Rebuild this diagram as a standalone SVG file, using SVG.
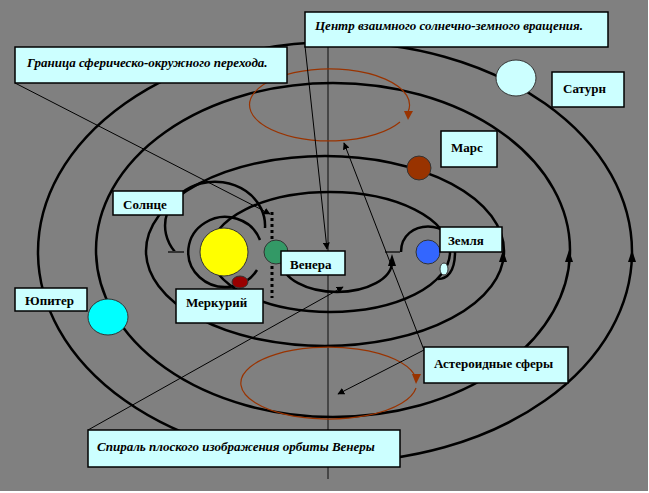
<svg xmlns="http://www.w3.org/2000/svg" width="649" height="493" viewBox="0 0 649 493">
<style>
.orb{fill:none;stroke:#000;stroke-width:2.5}
.red{fill:none;stroke:#993300;stroke-width:1.2}
.box{fill:#ccffff;stroke:#000;stroke-width:1.5}
text{font-family:'Liberation Serif','DejaVu Serif',serif;font-weight:bold;font-size:13px;fill:#000}
.i{font-style:italic}
.ln{stroke:#000;stroke-width:1;fill:none}
</style>
<defs>
<marker id="a" viewBox="0 0 10 10" refX="9" refY="5" markerWidth="7" markerHeight="7" orient="auto"><path d="M0,0L10,5L0,10z" fill="#000"/></marker>
</defs>
<rect width="648" height="491" fill="#808080"/>
<g id="axis"><line x1="328" y1="45" x2="328" y2="479" stroke="#333" stroke-width="1.5"/></g>
<g id="orbits">
<ellipse class="orb" cx="335" cy="252" rx="297" ry="210"/>
<ellipse class="orb" cx="333" cy="250" rx="237" ry="167"/>
<ellipse class="orb" cx="325" cy="251" rx="179" ry="95"/>
<ellipse class="orb" cx="330" cy="252" rx="120" ry="60"/>
<path class="orb" d="M282,262 A55,30 0 0 0 392,262"/>
<path class="orb" d="M175,252 A50,44 0 1 1 265,228"/>
<path class="orb" d="M257,270 A37,35 0 1 1 260,240"/>
<path class="orb" d="M401,252 C401,218 455,218 455,252 C455,272 447,279 438,279"/>
<line x1="168" y1="252" x2="184" y2="252" stroke="#333" stroke-width="2"/>
<line x1="385" y1="252" x2="400" y2="252" stroke="#333" stroke-width="2"/>
<line x1="272" y1="212" x2="272" y2="298" stroke="#000" stroke-width="3" stroke-dasharray="3,3"/>
<g fill="#000">
<path d="M628,262L632,250L636,262z"/>
<path d="M565,262L569,250L573,262z"/>
<path d="M499,262L503,250L507,262z"/>
<path d="M388,266L392,254L396,266z"/>
</g>
<path class="red" d="M400,122 A80,36 0 1 1 408,112"/>
<path d="M404,111L413,111L408,120z" fill="#993300"/>
<path class="red" d="M416,388 A88,36 0 1 1 414,374"/>
<path d="M412,374L421,374L416,384z" fill="#993300"/>
</g>
<g id="planets" stroke="#333" stroke-width="1">
<circle cx="224" cy="252" r="24" fill="#ffff00"/>
<ellipse cx="240" cy="282" rx="8" ry="6" fill="#990000"/>
<circle cx="276" cy="252" r="12" fill="#339966"/>
<circle cx="428" cy="252" r="12" fill="#3366ff"/>
<ellipse cx="444" cy="269" rx="4" ry="6" fill="#ccffff"/>
<circle cx="419" cy="168" r="12" fill="#993300"/>
<ellipse cx="516" cy="78" rx="20" ry="18" fill="#ccffff"/>
<ellipse cx="108" cy="317" rx="20" ry="18" fill="#00ffff"/>
</g>
<g id="connectors">
<line class="ln" x1="15" y1="83" x2="270" y2="214" marker-end="url(#a)"/>
<line class="ln" x1="305" y1="46" x2="327" y2="249" marker-end="url(#a)"/>
<line class="ln" x1="424" y1="350" x2="344" y2="143" marker-end="url(#a)"/>
<line class="ln" x1="424" y1="350" x2="338" y2="394" marker-end="url(#a)"/>
<line class="ln" x1="88" y1="430" x2="343" y2="287" marker-end="url(#a)"/>
</g>
<g id="n-center"><rect class="box" x="305" y="12" width="303" height="35"/><text class="i" x="315" y="30">Центр взаимного солнечно-земного вращения.</text></g>
<g id="n-border"><rect class="box" x="15" y="47" width="272" height="36"/><text class="i" x="27" y="67">Граница сферическо-окружного перехода.</text></g>
<g id="n-saturn"><rect class="box" x="552" y="72" width="72" height="35"/><text x="563" y="93">Сатурн</text></g>
<g id="n-mars"><rect class="box" x="441" y="131" width="56" height="36"/><text x="451" y="152">Марс</text></g>
<g id="n-sun"><rect class="box" x="113" y="191" width="70" height="24"/><text x="123" y="209">Солнце</text></g>
<g id="n-earth"><rect class="box" x="440" y="227" width="62" height="25"/><text x="448" y="245">Земля</text></g>
<g id="n-venus"><rect class="box" x="281" y="251" width="64" height="24"/><text x="290" y="269">Венера</text></g>
<g id="n-mercury"><rect class="box" x="176" y="289" width="87" height="34"/><text x="186" y="307">Меркурий</text></g>
<g id="n-jupiter"><rect class="box" x="15" y="288" width="72" height="23"/><text x="25" y="305">Юпитер</text></g>
<g id="n-asteroid"><rect class="box" x="424" y="347" width="144" height="36"/><text x="434" y="368">Астероидные сферы</text></g>
<g id="n-spiral"><rect class="box" x="88" y="430" width="312" height="37"/><text class="i" x="97" y="451">Спираль плоского изображения орбиты Венеры</text></g>
</svg>
